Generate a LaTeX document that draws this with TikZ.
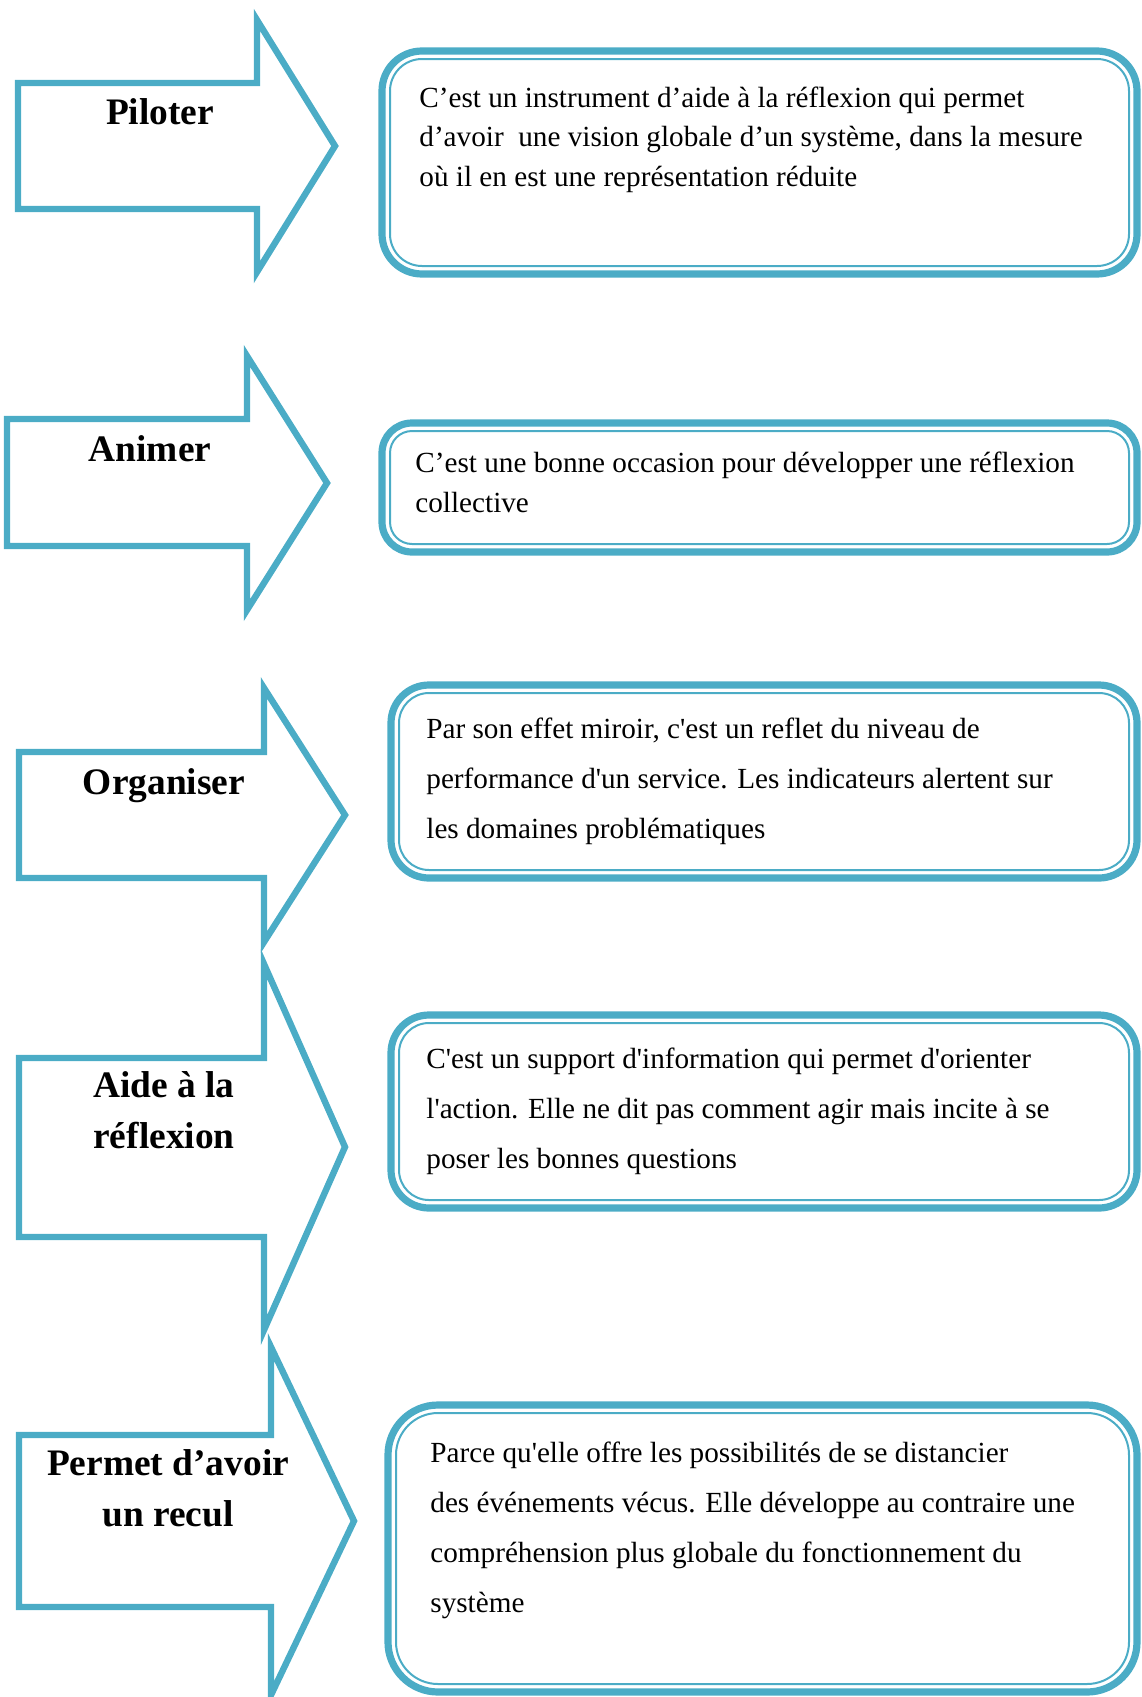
\documentclass[tikz,border=0pt]{standalone}
\usepackage{fontspec}
\setmainfont{Liberation Serif}
\definecolor{aqua}{HTML}{4BACC6}

\begin{document}
\begin{tikzpicture}[
    x = 0.5pt, y = -0.5pt, % one unit = one pixel of the page
    line join = miter,
    font = \fontsize{14.6}{19.75}\selectfont
]

\tikzset{
    bigarrow/.style = {draw = aqua, line width = 3.2pt},
    outerbox/.style = {draw = aqua, line width = 3.6pt},
    innerbox/.style = {draw = aqua, line width = 1pt},
    % base anchor = baseline of the last line
    verb/.style = {anchor = base, align = center, inner sep = 0pt,
        font = \fontsize{18.7}{25.25}\selectfont\bfseries},
    boxtext/.style = {anchor = base west, align = left, inner sep = 0pt},
    widetext/.style = {boxtext, font = \fontsize{14.6}{25}\selectfont},
}

\useasboundingbox (0,0) rectangle (1141,1697);
\clip (0,0) rectangle (1141,1697);

% arrows on the left
\draw[bigarrow] (18,83) -- (257,83) -- (257,20) -- (335,146)
    -- (257,272) -- (257,209) -- (18,209) -- cycle;
\draw[bigarrow] (7,419) -- (247,419) -- (247,356) -- (327,483)
    -- (247,610) -- (247,546) -- (7,546) -- cycle;
\draw[bigarrow] (19,752) -- (264,752) -- (264,688) -- (345,815)
    -- (264,942) -- (264,878) -- (19,878) -- cycle;
\draw[bigarrow] (19,1058) -- (264,1058) -- (264,964) -- (345,1147)
    -- (264,1330) -- (264,1237) -- (19,1237) -- cycle;
\draw[bigarrow] (19,1435) -- (271,1435) -- (271,1347) -- (354,1521)
    -- (271,1695) -- (271,1607) -- (19,1607) -- cycle;

\node[verb] (piloter) at (160,124) {Piloter};
\node[verb] (animer) at (150,461) {Animer};
\node[verb] (organiser) at (164,794) {Organiser};
\node[verb] (aide) at (164,1148) {Aide à la\\réflexion};
\node[verb] (recul) at (168,1526) {Permet d’avoir\\un recul};

% boxes on the right
\draw[outerbox, rounded corners = 20pt] (382,51) rectangle (1137,274);
\draw[innerbox, rounded corners = 16pt] (390,59) rectangle (1129,266);
\draw[outerbox, rounded corners = 15pt] (382,423) rectangle (1137,552);
\draw[innerbox, rounded corners = 11pt] (390,431) rectangle (1129,544);
\draw[outerbox, rounded corners = 19pt] (391,685) rectangle (1137,878);
\draw[innerbox, rounded corners = 15pt] (399,693) rectangle (1129,870);
\draw[outerbox, rounded corners = 19pt] (391,1015) rectangle (1137,1208);
\draw[innerbox, rounded corners = 15pt] (399,1023) rectangle (1129,1200);
\draw[outerbox, rounded corners = 25pt] (388,1405) rectangle (1137,1692);
\draw[innerbox, rounded corners = 21pt] (396,1413) rectangle (1129,1684);

\node[boxtext] (pilotertext) at (419,186) {%
C’est un instrument d’aide à la réflexion qui permet\\
d’avoir\ \ une vision globale d’un système, dans la mesure\\
où il en est une représentation réduite};
\node[boxtext] (animertext) at (415,512) {%
C’est une bonne occasion pour développer une réflexion\\
collective};
\node[widetext] (organisertext) at (426,838) {%
Par son effet miroir, c\textquotesingle est un reflet du niveau de\\
performance d\textquotesingle un service. Les indicateurs alertent sur\\
les domaines problématiques};
\node[widetext] (aidetext) at (426,1168) {%
C\textquotesingle est un support d\textquotesingle information qui permet d\textquotesingle orienter\\
l\textquotesingle action. Elle ne dit pas comment agir mais incite à se\\
poser les bonnes questions};
\node[widetext] (recultext) at (430,1612) {%
Parce qu\textquotesingle elle offre les possibilités de se distancier\\
des événements vécus. Elle développe au contraire une\\
compréhension plus globale du fonctionnement du\\
système};
\end{tikzpicture}
\end{document}
